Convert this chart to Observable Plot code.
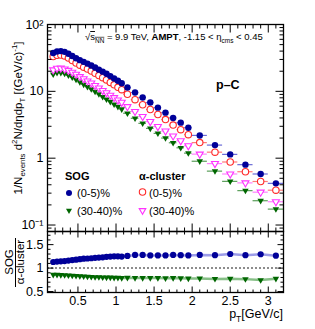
<!DOCTYPE html>
<html><head><meta charset="utf-8">
<script src="https://cdn.jsdelivr.net/npm/d3@7"></script>
<script src="https://cdn.jsdelivr.net/npm/@observablehq/plot@0.6"></script>
<style>
html,body{margin:0;padding:0;background:#fff;}
#wrap{position:relative;width:315px;height:329px;font-family:"Liberation Sans",Arial,Helvetica,sans-serif;overflow:hidden;}
#top,#bot,#ov{position:absolute;left:0;}
#top{top:0} #bot{top:230px} #ov{top:0;pointer-events:none;font-family:"Liberation Sans",Arial,Helvetica,sans-serif;}
</style></head><body>
<div id="wrap"><div id="top"></div><div id="bot"></div><svg id="ov" width="315" height="329"></svg></div>
<script>
// ---- data ----
const ptEdges = [0.15,0.2,0.25,0.3,0.35,0.4,0.45,0.5,0.55,0.6,0.65,0.7,0.75,0.8,0.85,0.9,0.95,1.0,1.05,1.1,
                 1.2,1.3,1.4,1.5,1.6,1.7,1.8,1.9,2.0,2.2,2.4,2.6,2.8,3.0,3.2];
const sog0_5 = [37.5,39.5,40,39,36.5,33.8,31.3,29.3,27.6,26.0,24.3,22.7,21.1,19.7,18.3,16.9,15.6,14.4,13.2,
                11.4,9.6,8.1,6.8,5.7,4.8,4.0,3.4,2.86,2.19,1.57,1.14,0.80,0.58,0.42];
const alpha0_5 = [33.2,34.6,34.9,33.9,31.5,28.9,26.5,24.6,23.0,21.6,20.1,18.6,17.2,16.0,14.8,13.6,12.5,11.5,10.6,
                  9.05,7.5,6.3,5.35,4.5,3.78,3.13,2.67,2.25,1.71,1.23,0.877,0.627,0.448,0.332];
const sog30_40 = [18.0,19.0,19.0,18.4,17.4,16.2,15.0,13.8,12.7,11.7,10.8,9.9,9.1,8.3,7.6,7.0,6.4,5.9,5.4,
                  4.7,3.95,3.32,2.79,2.35,2.0,1.70,1.43,1.19,0.90,0.64,0.45,0.327,0.231,0.173];
const alpha30_40 = [20.9,22.1,22.2,21.6,20.6,19.3,18.0,16.6,15.4,14.3,13.3,12.2,11.2,10.3,9.5,8.75,8.05,7.4,6.85,
                    5.9,5.0,4.2,3.53,2.97,2.55,2.15,1.82,1.53,1.15,0.83,0.58,0.427,0.31,0.223];
const ratio0_5 = [1.13,1.14,1.145,1.15,1.16,1.17,1.18,1.19,1.20,1.205,1.21,1.22,1.225,1.23,1.24,1.245,1.25,1.25,1.245,
                  1.26,1.28,1.28,1.27,1.27,1.27,1.28,1.275,1.27,1.28,1.275,1.30,1.275,1.295,1.265];
const ratio30_40 = [0.86,0.86,0.855,0.85,0.845,0.84,0.835,0.83,0.825,0.82,0.815,0.81,0.81,0.805,0.80,0.80,0.795,0.795,0.79,
                    0.795,0.79,0.79,0.79,0.79,0.785,0.79,0.785,0.78,0.78,0.77,0.775,0.765,0.745,0.775];
const yLogLabels = [0.1, 1, 10, 100];
const yLogText = ["10\u207B\u00B9", "1", "10", "10\u00B2"];
const xLabels = [0.5, 1, 1.5, 2, 2.5, 3];
const ratioLabels = [0.5, 1, 1.5];

// ---- helpers ----
const FONT = '"Liberation Sans",Arial,Helvetica,sans-serif';
const rows = ptEdges.slice(0, -1).map((lo, i) => ({
  x: (lo + ptEdges[i + 1]) / 2, lo, hi: ptEdges[i + 1],
  b: sog0_5[i], r: alpha0_5[i], g: sog30_40[i], m: alpha30_40[i],
  rb: ratio0_5[i], rg: ratio30_40[i]
}));
const tick = (dx, dy) => ({draw(ctx) { ctx.moveTo(0, 0); ctx.lineTo(dx, dy); }});
const downTri = {draw(ctx, size) {
  const y = Math.sqrt(size / (Math.sqrt(3) * 3)), s3 = Math.sqrt(3);
  ctx.moveTo(0, 2 * y); ctx.lineTo(-s3 * y, -y); ctx.lineTo(s3 * y, -y); ctx.closePath();
}};
const range = (a, b, s) => { const o = []; for (let v = a; v <= b + 1e-9; v += s) o.push(+v.toFixed(3)); return o; };
const xMinor = range(0.1, 3.2, 0.1).filter(v => Math.abs(v * 2 - Math.round(v * 2)) > 1e-6);
const yMinorLog = [0.08,0.09,0.2,0.3,0.4,0.5,0.6,0.7,0.8,0.9,2,3,4,5,6,7,8,9,20,30,40,50,60,70,80,90];
const rMinor = range(0.5, 1.7, 0.1).filter(v => Math.abs(v * 2 - Math.round(v * 2)) > 1e-6);

function tickMarks(xMaj, xMin, yMaj, yMin, LM, Lm) {
  const st = {stroke: "black", fill: "none", strokeWidth: 1};
  return [
    Plot.dot(xMaj, {x: d => d, frameAnchor: "bottom", symbol: tick(0, -LM), ...st}),
    Plot.dot(xMin, {x: d => d, frameAnchor: "bottom", symbol: tick(0, -Lm), ...st}),
    Plot.dot(xMaj, {x: d => d, frameAnchor: "top", symbol: tick(0, LM), ...st}),
    Plot.dot(xMin, {x: d => d, frameAnchor: "top", symbol: tick(0, Lm), ...st}),
    Plot.dot(yMaj, {y: d => d, frameAnchor: "left", symbol: tick(LM, 0), ...st}),
    Plot.dot(yMin, {y: d => d, frameAnchor: "left", symbol: tick(Lm, 0), ...st}),
    Plot.dot(yMaj, {y: d => d, frameAnchor: "right", symbol: tick(-LM, 0), ...st}),
    Plot.dot(yMin, {y: d => d, frameAnchor: "right", symbol: tick(-Lm, 0), ...st})
  ];
}

const C = {
  b: "#000099", bBar: "#6b6bd6", bBand: "#9c9ce8",
  r: "#ff2a2a", rBar: "#ff7a7a",
  g: "#006600", gBar: "#5a9e5a", gBand: "#86bf86",
  m: "#ff33ff", mBar: "#ff80ff"
};

// ---- top panel ----
const topPlot = Plot.plot({
  width: 315, height: 232, marginLeft: 47, marginRight: 32, marginTop: 24, marginBottom: 1,
  style: {fontFamily: FONT, fontSize: "12.5px", background: "transparent", color: "black", overflow: "visible"},
  x: {domain: [0.1, 3.2], axis: null},
  y: {type: "log", domain: [0.08, 100], axis: "left", ticks: yLogLabels,
      tickFormat: d => yLogText[yLogLabels.indexOf(d)], tickSize: 0, tickPadding: 4, label: null},
  marks: [
    Plot.ruleY(rows, {x1: "lo", x2: "hi", y: "g", stroke: C.gBar, strokeWidth: 1.2}),
    Plot.ruleY(rows, {x1: "lo", x2: "hi", y: "m", stroke: C.mBar, strokeWidth: 1.2}),
    Plot.ruleY(rows, {x1: "lo", x2: "hi", y: "r", stroke: C.rBar, strokeWidth: 1.2}),
    Plot.ruleY(rows, {x1: "lo", x2: "hi", y: "b", stroke: C.bBar, strokeWidth: 1.2}),
    Plot.dot(rows, {x: "x", y: "g", symbol: downTri, r: 2.4, fill: C.g, stroke: "none"}),
    Plot.dot(rows, {x: "x", y: "m", symbol: downTri, r: 2.6, fill: "white", stroke: C.m, strokeWidth: 1.1}),
    Plot.dot(rows, {x: "x", y: "r", r: 3.2, fill: "white", stroke: C.r, strokeWidth: 1.1}),
    Plot.dot(rows, {x: "x", y: "b", r: 3.2, fill: C.b, stroke: "none"}),
    ...tickMarks(xLabels, xMinor, yLogLabels, yMinorLog, 8, 4),
    Plot.frame({stroke: "black", strokeWidth: 1.3})
  ]
});
document.getElementById("top").appendChild(topPlot);

// ---- ratio panel ----
const botPlot = Plot.plot({
  width: 315, height: 99, marginLeft: 47, marginRight: 32, marginTop: 1, marginBottom: 37,
  style: {fontFamily: FONT, fontSize: "12.5px", background: "transparent", color: "black", overflow: "visible"},
  x: {domain: [0.1, 3.2], ticks: xLabels, tickFormat: d => String(d), tickSize: 0, tickPadding: 4, label: null},
  y: {domain: [0.48, 1.78], ticks: ratioLabels, tickFormat: d => String(d), tickSize: 0, tickPadding: 4, label: null},
  marks: [
    Plot.ruleY([1], {stroke: "#8c8c8c", strokeWidth: 2, strokeDasharray: "2,2"}),
    Plot.line(rows, {x: "x", y: "rb", stroke: C.bBand, strokeWidth: 2.5}),
    Plot.line(rows, {x: "x", y: "rg", stroke: C.gBand, strokeWidth: 2.5}),
    Plot.dot(rows, {x: "x", y: "rb", r: 3.1, fill: C.b, stroke: "none"}),
    Plot.dot(rows, {x: "x", y: "rg", symbol: downTri, r: 2.4, fill: C.g, stroke: "none"}),
    ...tickMarks(xLabels, xMinor, ratioLabels, rMinor, 6, 3),
    Plot.frame({stroke: "black", strokeWidth: 1.3})
  ]
});
document.getElementById("bot").appendChild(botPlot);

// ---- overlay texts ----
const ov = d3.select("#ov");
function rich(x, y, parts, {size = 12, anchor = "start", transform = null, weight = "normal"} = {}) {
  const t = ov.append("text").attr("x", x).attr("y", y).attr("font-size", size)
    .attr("text-anchor", anchor).attr("font-weight", weight).attr("fill", "black");
  if (transform) t.attr("transform", transform);
  let shift = 0;
  for (const p of parts) {
    const target = p.sub ? size * 0.3 : p.sup ? -size * 0.42 : 0;
    const ts = t.append("tspan").text(p.t).attr("dy", target - shift);
    shift = target;
    if (p.sub || p.sup) ts.attr("font-size", size * 0.68);
    if (p.bold) ts.attr("font-weight", "bold");
    if (p.over) ts.style("text-decoration", "overline");
  }
  return t;
}
// title
rich(85, 40, [{t: "\u221A"}, {t: "s", over: true}, {t: "NN", sub: true, over: true},
  {t: " = 9.9 TeV, "}, {t: "AMPT", bold: true}, {t: ", -1.15 < \u03B7"}, {t: "cms", sub: true}, {t: " < 0.45"}], {size: 9.5});
// system
rich(216, 89, [{t: "p\u2013C"}], {size: 12.5, weight: "bold"});
// y label top
rich(0, 0, [{t: "1/N"}, {t: "events", sub: true}, {t: " d"}, {t: "2", sup: true}, {t: "N/d\u03B7dp"}, {t: "T", sub: true},
  {t: " [(GeV/c)"}, {t: "-1", sup: true}, {t: "]"}], {size: 11.5, anchor: "middle", transform: "translate(22,118) rotate(-90)"});
// ratio y label
rich(0, 0, [{t: "SOG"}], {size: 11.5, anchor: "middle", transform: "translate(13,262) rotate(-90)"});
rich(0, 0, [{t: "\u03B1-cluster"}], {size: 11.5, anchor: "middle", transform: "translate(24,262) rotate(-90)"});
ov.append("line").attr("x1", 15.5).attr("x2", 15.5).attr("y1", 238).attr("y2", 287).attr("stroke", "black").attr("stroke-width", 1);
// x label
rich(283, 318, [{t: "p"}, {t: "T", sub: true}, {t: "[GeV/c]"}], {size: 12.5, anchor: "end"});
// legend
rich(65, 180, [{t: "SOG"}], {size: 11, weight: "bold"});
rich(139, 180, [{t: "\u03B1-cluster"}], {size: 11, weight: "bold"});
rich(77, 197, [{t: "(0-5)%"}], {size: 11});
rich(77, 215, [{t: "(30-40)%"}], {size: 11});
rich(149, 197, [{t: "(0-5)%"}], {size: 11});
rich(149, 215, [{t: "(30-40)%"}], {size: 11});
ov.append("circle").attr("cx", 69).attr("cy", 193).attr("r", 3).attr("fill", C.b);
ov.append("circle").attr("cx", 142.5).attr("cy", 192).attr("r", 3.2).attr("fill", "white").attr("stroke", C.r).attr("stroke-width", 1.1);
const triPath = (cx, cy, y) => `M${cx},${cy + 2 * y}L${cx - Math.sqrt(3) * y},${cy - y}L${cx + Math.sqrt(3) * y},${cy - y}Z`;
ov.append("path").attr("d", triPath(69, 210.5, 1.75)).attr("fill", C.g);
ov.append("path").attr("d", triPath(142.5, 210.5, 1.9)).attr("fill", "white").attr("stroke", C.m).attr("stroke-width", 1.1);
</script>
</body></html>
